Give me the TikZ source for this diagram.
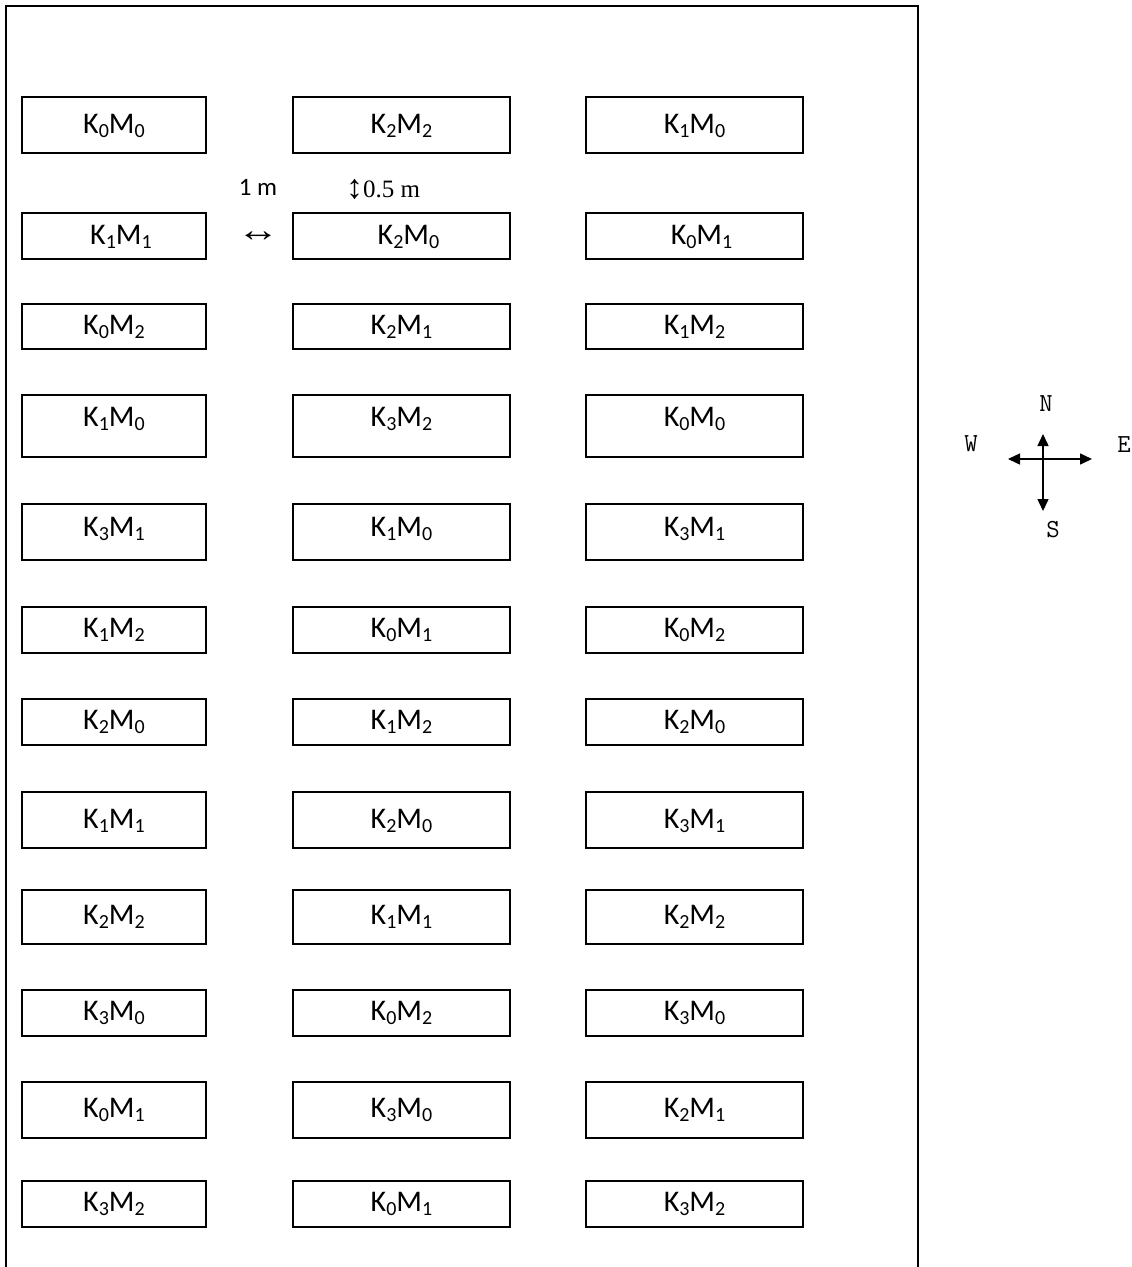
\documentclass[tikz,border=0pt]{standalone}
\usepackage{fontspec}
\setmainfont{Carlito}
\newfontfamily\serifrm{Liberation Serif}
\usetikzlibrary{arrows.meta}
\newcommand\subd[1]{\raisebox{-3.5pt}{\fontsize{20}{20}\selectfont #1}}
\newcommand\kmlab[2]{K\subd{#1}M\subd{#2}}
\begin{document}
\begin{tikzpicture}[x=1pt,y=-1pt,
  plotbox/.style={draw, line width=1.6pt, inner sep=0pt},
  lab/.style={inner sep=0pt, font=\fontsize{30}{30}\selectfont},
  frameline/.style={line width=1.6pt},
  compass/.style={line width=1.5pt, {Triangle[length=12pt,width=11pt]}-{Triangle[length=12pt,width=11pt]}},
  dir/.style={inner sep=0pt, font=\ttfamily\fontsize{26}{26}\selectfont}]
\useasboundingbox (0,0) rectangle (1132,1267);
\fill[white] (0,0) rectangle (1132,1267);
% outer field frame (bottom edge lies outside the picture)
\draw[frameline] (6,1267) -- (6,6) -- (918,6) -- (918,1267);
% plots
\foreach \r/\yt/\yb/\ty/\dx/\la/\lb/\lc in {
  1/97/153/126/0/00/22/10,
  2/213/259/237/7/11/20/01,
  3/304/349/327/0/02/21/12,
  4/395/457/419/0/10/32/00,
  5/504/560/529/0/31/10/31,
  6/607/653/630/0/12/01/02,
  7/699/745/722/0/20/12/20,
  8/792/848/821/0/11/20/31,
  9/890/944/917/0/22/11/22,
  10/990/1036/1013/0/30/02/30,
  11/1082/1138/1110/0/01/30/21,
  12/1181/1227/1204/0/32/01/32}{
  \foreach \c/\xl/\xr/\lab in {1/22/206/\la, 2/293/510/\lb, 3/586/803/\lc}{
    \node[plotbox, minimum width={\xr-\xl}, minimum height={\yb-\yt}]
      (box-\r-\c) at ({(\xl+\xr)/2},{(\yt+\yb)/2}) {};
    \node[lab] (lab-\r-\c) at ({(\xl+\xr)/2+\dx},\ty)
      {\edef\tmplab{\lab}\edef\tmplab{\tmplab}\expandafter\kmlab\tmplab};
  }
}
% spacing annotations
\node[inner sep=0pt, font=\fontsize{25}{25}\selectfont] (onem) at (258,187) {1 m};
\node[inner sep=0pt, font=\serifrm\fontsize{25}{25}\selectfont] (halfm) at (383,189)
  {\raisebox{-1pt}{\fontsize{34}{34}\selectfont ↕}0.5 m};
\node[inner sep=0pt, font=\serifrm\fontsize{34}{34}\selectfont] (lr) at (258,237) {\scalebox{1.25}[1]{↔}};
% compass
\coordinate (cw) at (1008,459);
\coordinate (ce) at (1092,459);
\coordinate (cn) at (1043,434);
\coordinate (cs) at (1043,511);
\draw[compass] (cw) -- (ce);
\draw[compass] (cn) -- (cs);
\node[dir] (north) at (1046,404) {N};
\node[dir] (west) at (971,444) {W};
\node[dir] (east) at (1124,445) {E};
\node[dir] (south) at (1053,530) {S};
\end{tikzpicture}
\end{document}
